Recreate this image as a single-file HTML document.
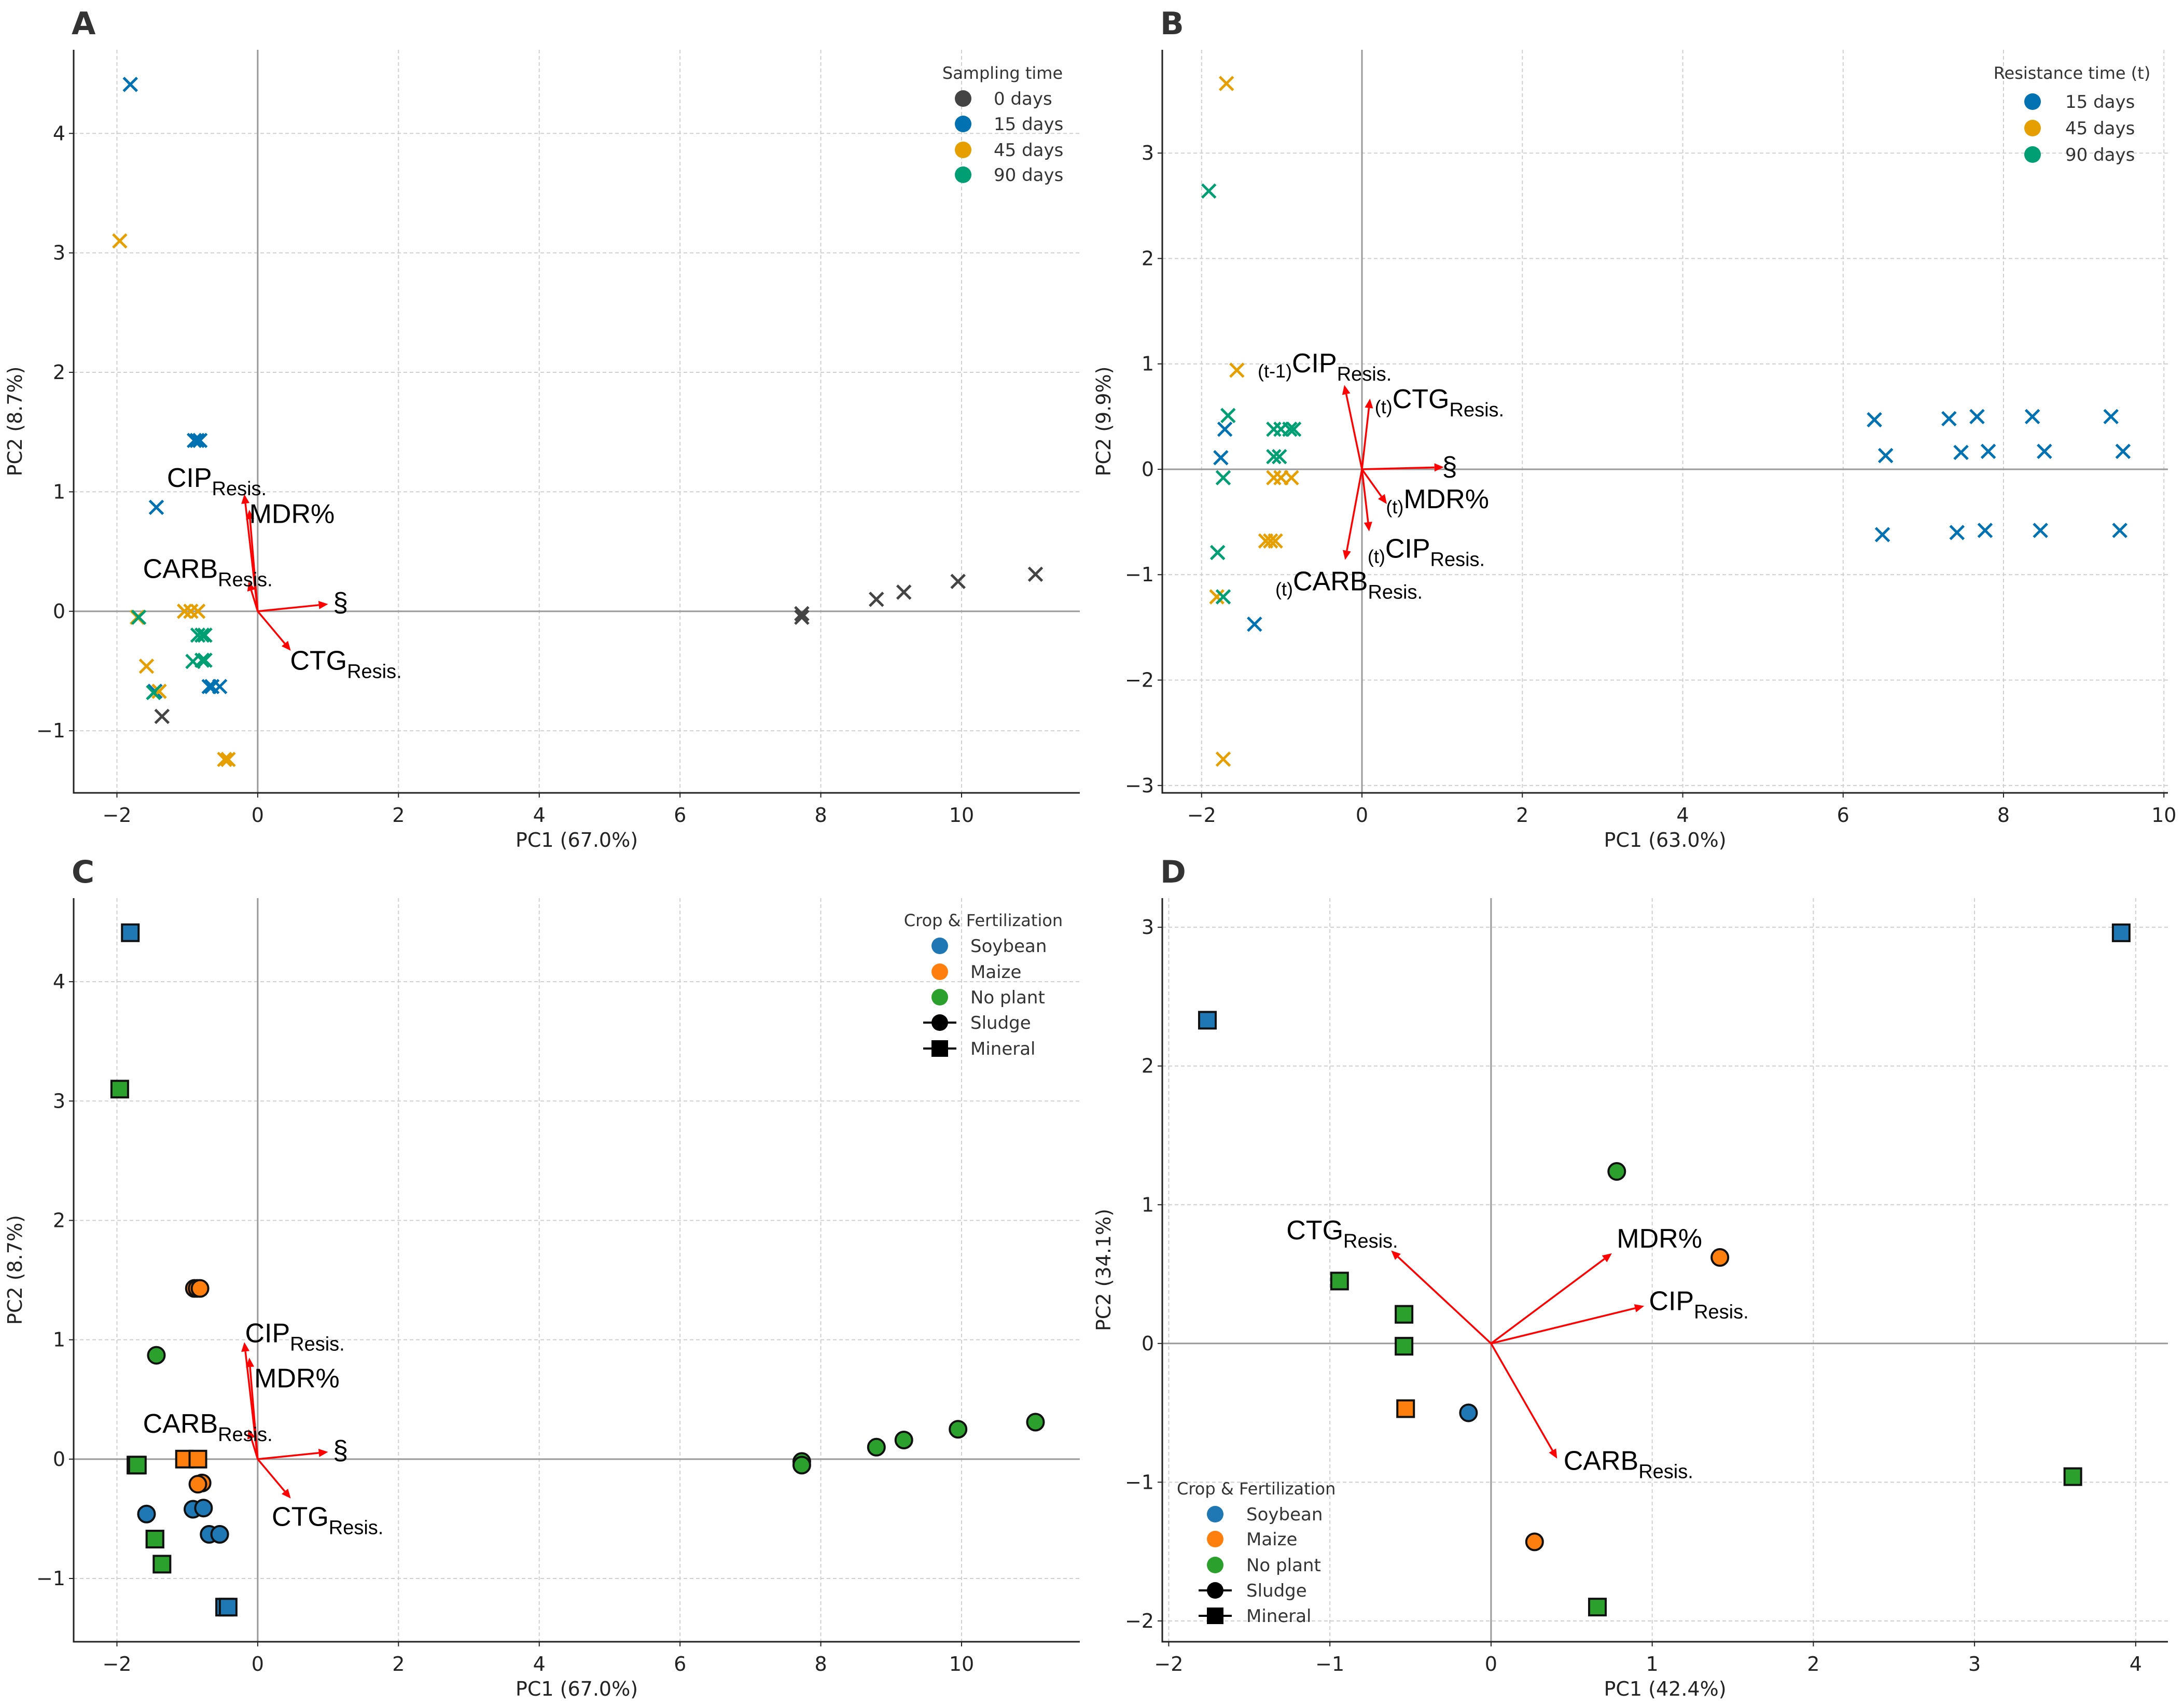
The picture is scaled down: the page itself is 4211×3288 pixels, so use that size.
<!DOCTYPE html>
<html><head><meta charset="utf-8">
<style>
html,body{margin:0;padding:0;background:#fff;}
svg{display:block;font-family:"DejaVu Sans","Liberation Sans",sans-serif;}
.lab{font-family:"Liberation Sans",sans-serif;}
</style></head>
<body>
<svg id="fig" width="4211" height="3288" viewBox="0 0 4211 3288" xmlns="http://www.w3.org/2000/svg"></svg>
<script>
// ---------- Panel A data ----------
const aGroups = ["0 days","15 days","45 days","90 days"];
const aColors = ["#444444","#0072B2","#E69F00","#009E73"];
const aX0 = [-1.36,7.73,7.73,8.79,9.18,9.95,11.05];
const aY0 = [-0.88,-0.02,-0.05,0.10,0.16,0.25,0.31];
const aX15 = [-1.81,-1.44,-0.90,-0.86,-0.82,-0.69,-0.65,-0.54,-1.46];
const aY15 = [4.41,0.87,1.43,1.43,1.43,-0.63,-0.63,-0.63,-0.67];
const aX45 = [-1.96,-1.71,-1.04,-0.95,-0.85,-1.58,-1.40,-0.47,-0.42];
const aY45 = [3.10,-0.05,0,0,0,-0.46,-0.67,-1.24,-1.24];
const aX90 = [-1.69,-0.85,-0.79,-0.75,-0.92,-0.79,-0.75,-1.48];
const aY90 = [-0.05,-0.20,-0.20,-0.20,-0.42,-0.41,-0.41,-0.68];
const aArrowNames = ["CIP","MDR%","CARB","§","CTG"];
const aArrowX = [-0.19,-0.12,-0.13,1.00,0.47];
const aArrowY = [0.98,0.85,0.25,0.06,-0.33];
const aLabelX = [-1.29,-0.12,-1.63,1.07,0.46];
const aLabelY = [1.04,0.74,0.28,0.0,-0.49];

// ---------- Panel B data ----------
const bGroups = ["15 days","45 days","90 days"];
const bColors = ["#0072B2","#E69F00","#009E73"];
const bX15 = [-1.71,-1.76,-1.34,6.39,7.32,7.67,8.36,9.34,6.53,7.47,7.81,8.51,9.49,6.49,7.42,7.77,8.46,9.45];
const bY15 = [0.38,0.11,-1.47,0.47,0.48,0.50,0.50,0.50,0.13,0.16,0.17,0.17,0.17,-0.62,-0.60,-0.58,-0.58,-0.58];
const bX45 = [-1.69,-1.56,-1.10,-1.01,-0.88,-1.20,-1.14,-1.08,-1.81,-1.73];
const bY45 = [3.66,0.94,-0.08,-0.08,-0.08,-0.68,-0.68,-0.68,-1.21,-2.75];
const bX90 = [-1.91,-1.67,-1.10,-1.01,-0.90,-0.85,-1.10,-1.03,-1.73,-1.80,-1.73];
const bY90 = [2.64,0.51,0.38,0.38,0.38,0.38,0.12,0.12,-0.08,-0.79,-1.21];
const bArrowPre = ["(t-1)","(t)","","(t)","(t)","(t)"];
const bArrowNames = ["CIP","CTG","§","MDR%","CIP","CARB"];
const bArrowX = [-0.22,0.10,1.02,0.31,0.09,-0.21];
const bArrowY = [0.80,0.67,0.02,-0.33,-0.59,-0.86];
const bLabelX = [-1.30,0.16,1.00,0.30,0.07,-1.08];
const bLabelY = [0.92,0.58,-0.06,-0.37,-0.84,-1.15];

// ---------- Panel C data (crop colour, fertilization shape) ----------
const cCrops = ["Soybean","Maize","No plant"];
const cColors = ["#1f77b4","#ff7f0e","#2ca02c"];
const cX = [-1.73,-1.46,-1.81,-1.96,-0.90,-0.86,-0.82,-1.44,-1.71,-1.04,-0.85,-0.79,-0.85,-0.92,-0.77,-1.58,-0.69,-0.54,-1.46,-1.36,-0.47,-0.42,7.73,7.73,8.79,9.18,9.95,11.05];
const cY = [-0.05,-0.67,4.41,3.10,1.43,1.43,1.43,0.87,-0.05,0,0,-0.20,-0.21,-0.42,-0.41,-0.46,-0.63,-0.63,-0.67,-0.88,-1.24,-1.24,-0.02,-0.05,0.10,0.16,0.25,0.31];
const cCrop = [2,1,0,2,1,1,1,2,2,1,1,1,1,0,0,0,0,0,2,2,0,0,2,2,2,2,2,2];
const cShape = ["s","s","s","s","o","o","o","o","s","s","s","o","o","o","o","o","o","o","s","s","s","s","o","o","o","o","o","o"];
const cArrowNames = ["CIP","MDR%","CARB","§","CTG"];
const cArrowX = [-0.19,-0.12,-0.13,1.00,0.47];
const cArrowY = [0.98,0.85,0.25,0.06,-0.33];
const cLabelX = [-0.18,-0.05,-1.63,1.07,0.20];
const cLabelY = [0.98,0.60,0.22,0.0,-0.56];

// ---------- Panel D data ----------
const dX = [3.91,-1.76,0.78,1.42,-0.94,-0.54,-0.54,-0.53,-0.14,3.61,0.27,0.66];
const dY = [2.96,2.33,1.24,0.62,0.45,0.21,-0.02,-0.47,-0.50,-0.96,-1.43,-1.90];
const dCrop = [0,0,2,1,2,2,2,1,0,2,1,2];
const dShape = ["s","s","o","o","s","s","s","s","o","s","o","s"];
const dArrowNames = ["CTG","MDR%","CIP","CARB"];
const dArrowX = [-0.62,0.75,0.95,0.41];
const dArrowY = [0.67,0.65,0.27,-0.83];
const dLabelX = [-1.27,0.78,0.98,0.45];
const dLabelY = [0.75,0.69,0.24,-0.91];

const NS="http://www.w3.org/2000/svg";
const fig=document.getElementById('fig');
function mk(tag,attrs,parent){const e=document.createElementNS(NS,tag);for(const k in attrs)e.setAttribute(k,attrs[k]);(parent||fig).appendChild(e);return e;}

function panel(cfg){
  const g=mk('g',{});
  
  
  const sx=v=>cfg.L+(v-cfg.xmin)/(cfg.xmax-cfg.xmin)*(cfg.R-cfg.L);
  const sy=v=>cfg.B-(v-cfg.ymin)/(cfg.ymax-cfg.ymin)*(cfg.B-cfg.T);
  // grid
  cfg.xt.forEach(t=>{
    const l=mk('line',{x1:sx(t),x2:sx(t),y1:cfg.T,y2:cfg.B,stroke:'#cfcfcf','stroke-width':2,'stroke-dasharray':'7,5'},g);
    
    
    const tx=mk('text',{x:sx(t),y:cfg.B+56,'font-size':38,'text-anchor':'middle',fill:'#222'},g);
    tx.textContent=(t<0?'\u2212'+(-t):String(t));
    
    
    mk('line',{x1:sx(t),x2:sx(t),y1:cfg.B,y2:cfg.B+9,stroke:'#222','stroke-width':2},g);
  });
  cfg.yt.forEach(t=>{
    const l=mk('line',{x1:cfg.L,x2:cfg.R,y1:sy(t),y2:sy(t),stroke:'#cfcfcf','stroke-width':2,'stroke-dasharray':'7,5'},g);
    
    
    const tx=mk('text',{x:cfg.L-16,y:sy(t)+13,'font-size':38,'text-anchor':'end',fill:'#222'},g);
    tx.textContent=(t<0?'\u2212'+(-t):String(t));
    
    
    mk('line',{x1:cfg.L-9,x2:cfg.L,y1:sy(t),y2:sy(t),stroke:'#222','stroke-width':2},g);
  });
  // zero lines
  mk('line',{x1:sx(0),x2:sx(0),y1:cfg.T,y2:cfg.B,stroke:'#9a9a9a','stroke-width':3},g);
  mk('line',{x1:cfg.L,x2:cfg.R,y1:sy(0),y2:sy(0),stroke:'#9a9a9a','stroke-width':3},g);
  // spines
  const sp=mk('path',{d:`M${cfg.L},${cfg.T}V${cfg.B}H${cfg.R}`,fill:'none',stroke:'#222','stroke-width':3},g);
  
  
  // axis titles
  const xl=mk('text',{x:(cfg.L+cfg.R)/2,y:cfg.B+104,'font-size':38,'text-anchor':'middle',fill:'#222'},g);
  xl.textContent=cfg.xlab;
  
  
  const yl=mk('text',{x:0,y:0,'font-size':38,'text-anchor':'middle',fill:'#222',transform:`translate(${cfg.L-100},${(cfg.T+cfg.B)/2}) rotate(-90)`},g);
  yl.textContent=cfg.ylab;
  
  
  const pl=mk('text',{x:cfg.L-4,y:cfg.T-30,'font-size':60,'font-weight':'bold',fill:'#333'},g);
  pl.textContent=cfg.letter;
  
  
  return {g,sx,sy};
}

function cross(g,x,y,c){
  const s=13;
  const p=mk('path',{d:`M${x-s},${y-s}L${x+s},${y+s}M${x-s},${y+s}L${x+s},${y-s}`,stroke:c,'stroke-width':5,fill:'none'},g);
  
  
}
function marker(g,x,y,c,shape){
  let e;
  if(shape==='s'){e=mk('rect',{x:x-16,y:y-16,width:32,height:32,fill:c,stroke:'#111','stroke-width':4},g);}
  else{e=mk('circle',{cx:x,cy:y,r:16,fill:c,stroke:'#111','stroke-width':4},g);}
  
  
}
function arrow(g,x0,y0,x1,y1){
  const dx=x1-x0,dy=y1-y0,len=Math.hypot(dx,dy),ux=dx/len,uy=dy/len,hl=18,hw=8;
  const bx=x1-ux*hl,by=y1-uy*hl;
  const a=mk('g',{},g);
  
  
  mk('line',{x1:x0,y1:y0,x2:bx,y2:by,stroke:'#ff0000','stroke-width':3.5},a);
  mk('path',{d:`M${x1},${y1}L${bx-uy*hw},${by+ux*hw}L${bx+uy*hw},${by-ux*hw}Z`,fill:'#ff0000'},a);
}
function label(g,x,y,pre,main,sub){
  const t=mk('text',{x:x,y:y,'font-size':52,fill:'#000','class':'lab'},g);
  
  
  if(pre){const s=mk('tspan',{'font-size':36,dy:10},t);s.textContent=pre;const m=mk('tspan',{dy:-10},t);m.textContent=main;}
  else{const m=mk('tspan',{},t);m.textContent=main;}
  if(sub){const s=mk('tspan',{'font-size':38,dy:16},t);s.textContent=sub;}
}
function legend(g,title,tx,ty,anchor,mx,txx,ys,names,colors,extra){
  const lg=mk('g',{},g);
  
  
  const t=mk('text',{x:tx,y:ty,'font-size':32,'text-anchor':anchor,fill:'#333'},lg);
  t.textContent=title;
  
  
  names.forEach((n,i)=>{
    const e=mk('g',{},lg);
    
    
    const y=ys[i];
    if(i<colors.length){mk('circle',{cx:mx,cy:y,r:16,fill:colors[i]},e);}
    else{
      mk('line',{x1:mx-32,x2:mx+32,y1:y,y2:y,stroke:'#000','stroke-width':4},e);
      if(extra[i-colors.length]==='o')mk('circle',{cx:mx,cy:y,r:16,fill:'#000'},e);
      else mk('rect',{x:mx-16,y:y-16,width:32,height:32,fill:'#000'},e);
    }
    const tt=mk('text',{x:txx,y:y+12,'font-size':34,fill:'#333'},e);
    tt.textContent=n;
  });
}

// ---- Panel A ----
(function(){
  const P=panel({name:'panel-a',letter:'A',L:142,R:2082,T:96,B:1529,xmin:-2.615,xmax:11.68,ymin:-1.52,ymax:4.70,xt:[-2,0,2,4,6,8,10],yt:[-1,0,1,2,3,4],xlab:'PC1 (67.0%)',ylab:'PC2 (8.7%)'});
  const sets=[[aX0,aY0],[aX15,aY15],[aX45,aY45],[aX90,aY90]];
  sets.forEach((s,k)=>s[0].forEach((v,i)=>cross(P.g,P.sx(v),P.sy(s[1][i]),aColors[k])));
  aArrowNames.forEach((n,i)=>arrow(P.g,P.sx(0),P.sy(0),P.sx(aArrowX[i]),P.sy(aArrowY[i])));
  aArrowNames.forEach((n,i)=>label(P.g,P.sx(aLabelX[i]),P.sy(aLabelY[i]),'',n,(n==='§'||n==='MDR%')?'':'Resis.'));
  legend(P.g,'Sampling time',1933,152,'middle',1857,1916,[190,239,289,337],aGroups,aColors,[]);
})();
// ---- Panel B ----
(function(){
  const P=panel({name:'panel-b',letter:'B',L:2241,R:4180,T:96,B:1529,xmin:-2.49,xmax:10.05,ymin:-3.07,ymax:3.98,xt:[-2,0,2,4,6,8,10],yt:[-3,-2,-1,0,1,2,3],xlab:'PC1 (63.0%)',ylab:'PC2 (9.9%)'});
  const sets=[[bX15,bY15],[bX45,bY45],[bX90,bY90]];
  sets.forEach((s,k)=>s[0].forEach((v,i)=>cross(P.g,P.sx(v),P.sy(s[1][i]),bColors[k])));
  bArrowNames.forEach((n,i)=>arrow(P.g,P.sx(0),P.sy(0),P.sx(bArrowX[i]),P.sy(bArrowY[i])));
  bArrowNames.forEach((n,i)=>label(P.g,P.sx(bLabelX[i]),P.sy(bLabelY[i]),bArrowPre[i],n,(n==='§'||n==='MDR%')?'':'Resis.'));
  legend(P.g,'Resistance time (t)',3995,152,'middle',3919,3982,[196,247,298],bGroups,bColors,[]);
})();
// ---- Panel C ----
(function(){
  const P=panel({name:'panel-c',letter:'C',L:142,R:2082,T:1732,B:3166,xmin:-2.615,xmax:11.68,ymin:-1.53,ymax:4.70,xt:[-2,0,2,4,6,8,10],yt:[-1,0,1,2,3,4],xlab:'PC1 (67.0%)',ylab:'PC2 (8.7%)'});
  cX.forEach((v,i)=>marker(P.g,P.sx(v),P.sy(cY[i]),cColors[cCrop[i]],cShape[i]));
  cArrowNames.forEach((n,i)=>arrow(P.g,P.sx(0),P.sy(0),P.sx(cArrowX[i]),P.sy(cArrowY[i])));
  cArrowNames.forEach((n,i)=>label(P.g,P.sx(cLabelX[i]),P.sy(cLabelY[i]),'',n,(n==='§'||n==='MDR%')?'':'Resis.'));
  legend(P.g,'Crop & Fertilization',1896,1786,'middle',1812,1871,[1824,1874,1923,1972,2022],cCrops.concat(['Sludge','Mineral']),cColors,['o','s']);
})();
// ---- Panel D ----
(function(){
  const P=panel({name:'panel-d',letter:'D',L:2241,R:4180,T:1732,B:3166,xmin:-2.04,xmax:4.2,ymin:-2.15,ymax:3.21,xt:[-2,-1,0,1,2,3,4],yt:[-2,-1,0,1,2,3],xlab:'PC1 (42.4%)',ylab:'PC2 (34.1%)'});
  dX.forEach((v,i)=>marker(P.g,P.sx(v),P.sy(dY[i]),cColors[dCrop[i]],dShape[i]));
  dArrowNames.forEach((n,i)=>arrow(P.g,P.sx(0),P.sy(0),P.sx(dArrowX[i]),P.sy(dArrowY[i])));
  dArrowNames.forEach((n,i)=>label(P.g,P.sx(dLabelX[i]),P.sy(dLabelY[i]),'',n,(n==='MDR%')?'':'Resis.'));
  legend(P.g,'Crop & Fertilization',2269,2882,'start',2343,2403,[2920,2968,3018,3067,3116],cCrops.concat(['Sludge','Mineral']),cColors,['o','s']);
})();
</script>
</body></html>
